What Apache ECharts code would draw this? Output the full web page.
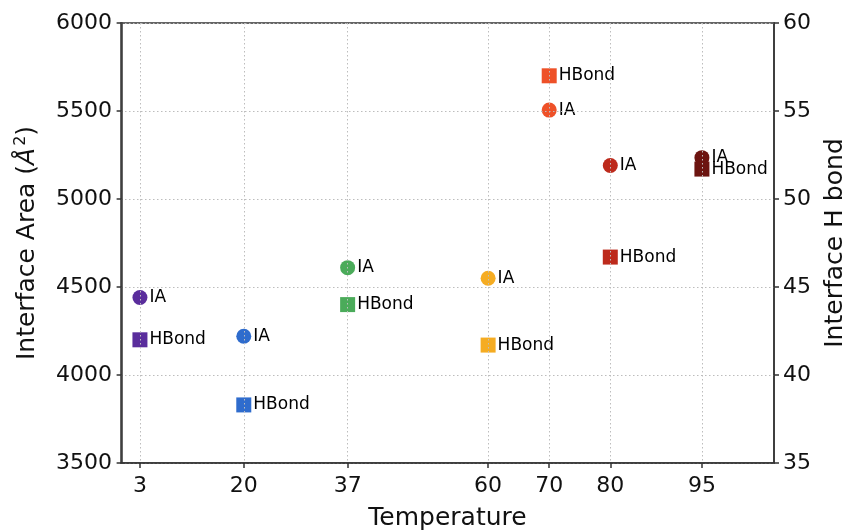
<!DOCTYPE html>
<html>
<head>
<meta charset="utf-8">
<script src="https://cdn.jsdelivr.net/npm/echarts@6/dist/echarts.min.js"></script>
<style>
html,body{margin:0;padding:0;background:#fff;}
#main{width:845px;height:530px;}
</style>
</head>
<body>
<div id="main"></div>
<script>
var myChart = echarts.init(document.getElementById('main'));

// 温度(x轴)
var temps = [3, 20, 37, 60, 70, 80, 95];
// 界面面积 (左轴)
var iaValues = [4440, 4220, 4610, 4550, 5505, 5190, 5235];
// 氢键数 (右轴)
var hbondValues = [42, 38.3, 44, 41.7, 57, 46.7, 51.7];
// 每个温度的颜色
var colors = ['#5a2d9c', '#2f6ccd', '#4bab5a', '#f5ac22', '#ee5128', '#bd2a1c', '#6c1410'];
var yLeftTicks = [3500, 6000, 500];
var yRightTicks = [35, 60, 5];

var font = 'DejaVu Sans';

function buildData(vals) {
    return vals.map(function (v, i) {
        return {value: [temps[i], v], itemStyle: {color: colors[i], opacity: 1}};
    });
}

var gridLine = {show: true, lineStyle: {color: '#bdbdbd', type: [1.5, 2.5], width: 1}};
var plain = function (v) { return String(v); };

myChart.setOption({
    animation: false,
    textStyle: {fontFamily: font},
    grid: {
        left: 121, right: 71, top: 23, bottom: 67,
        containLabel: false, outerBoundsMode: 'none',
        show: true, borderColor: '#333', borderWidth: 1.5
    },
    xAxis: {
        type: 'value',
        min: -0.1,
        max: 106.8,
        z: 5,
        name: 'Temperature',
        nameLocation: 'middle',
        nameGap: 43,
        nameTextStyle: {color: '#111', fontSize: 25, fontFamily: font},
        axisLine: {lineStyle: {color: '#333', width: 1.5}},
        axisTick: {customValues: temps, length: 5, lineStyle: {color: '#333', width: 1.5}},
        axisLabel: {customValues: temps, color: '#111', fontSize: 22, margin: 12, fontFamily: font, formatter: plain},
        splitLine: gridLine
    },
    yAxis: [{
        type: 'value',
        min: yLeftTicks[0],
        max: yLeftTicks[1],
        interval: yLeftTicks[2],
        z: 5,
        name: 'Interface Area ({it|Å}{sup|2})',
        nameLocation: 'middle',
        nameGap: 80,
        nameRotate: 90,
        nameTextStyle: {
            color: '#111', fontSize: 25, fontFamily: font,
            rich: {
                it: {fontSize: 25, fontStyle: 'italic', color: '#111', fontFamily: font},
                sup: {fontSize: 16, verticalAlign: 'top', padding: [0, 0, 12, 2], color: '#111', fontFamily: font}
            }
        },
        axisLine: {show: true, lineStyle: {color: '#333', width: 1.5}},
        axisTick: {show: true, length: 5, lineStyle: {color: '#333', width: 1.5}},
        axisLabel: {color: '#111', fontSize: 22, margin: 9, fontFamily: font, formatter: plain},
        splitLine: gridLine
    }, {
        type: 'value',
        min: yRightTicks[0],
        max: yRightTicks[1],
        interval: yRightTicks[2],
        position: 'right',
        z: 5,
        name: 'Interface H bond',
        nameLocation: 'middle',
        nameGap: 49,
        nameRotate: 90,
        nameTextStyle: {color: '#111', fontSize: 25, fontFamily: font},
        axisLine: {show: true, lineStyle: {color: '#333', width: 1.5}},
        axisTick: {show: true, length: 5, lineStyle: {color: '#333', width: 1.5}},
        axisLabel: {color: '#111', fontSize: 22, margin: 9, fontFamily: font, formatter: plain},
        splitLine: {show: false}
    }],
    series: [{
        name: 'IA',
        type: 'scatter',
        yAxisIndex: 0,
        symbol: 'circle',
        symbolSize: 15,
        itemStyle: {opacity: 1},
        label: {show: true, position: 'right', distance: 2, formatter: 'IA', color: '#000', opacity: 1, fontSize: 17, fontFamily: font},
        data: buildData(iaValues)
    }, {
        name: 'HBond',
        type: 'scatter',
        yAxisIndex: 1,
        symbol: 'rect',
        symbolSize: 15,
        itemStyle: {opacity: 1},
        label: {show: true, position: 'right', distance: 2, formatter: 'HBond', color: '#000', opacity: 1, fontSize: 17, fontFamily: font},
        data: buildData(hbondValues)
    }]
});
</script>
</body>
</html>
